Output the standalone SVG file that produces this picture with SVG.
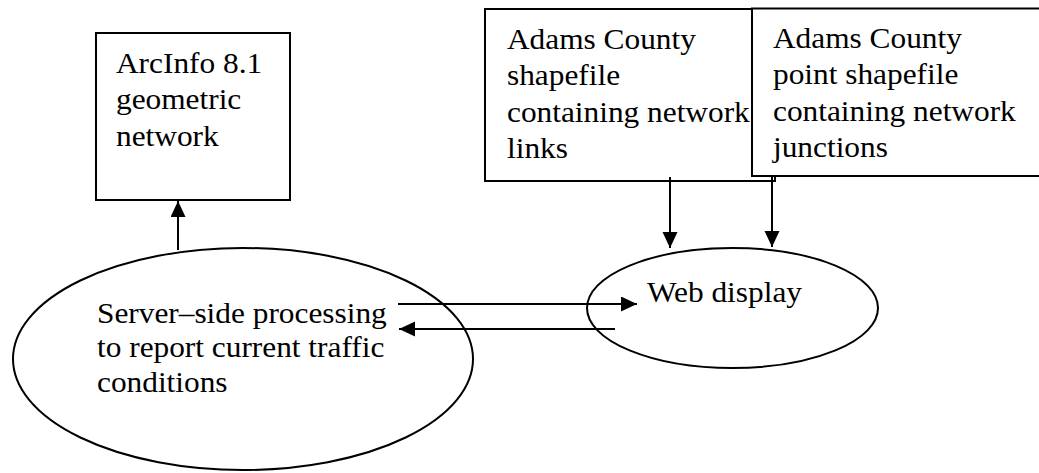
<svg xmlns="http://www.w3.org/2000/svg" width="1039" height="473" viewBox="0 0 1039 473">
  <style>
    .box { fill: #fff; stroke: #000; stroke-width: 2; }
    .oval { fill: none; stroke: #000; stroke-width: 2; }
    .lbl { font-family: "Liberation Serif", "Times New Roman", serif; font-size: 28.5px; fill: #000; }
    .edge { stroke: #000; stroke-width: 2; fill: none; marker-end: url(#head); }
  </style>
  <defs>
    <marker id="head" markerUnits="userSpaceOnUse" markerWidth="18" markerHeight="16" refX="16" refY="7.5" orient="auto">
      <path d="M0,0 L16,7.5 L0,15 z" fill="#000"/>
    </marker>
  </defs>

  <g id="arcinfo">
    <rect class="box" x="96" y="33" width="194" height="167"/>
    <text class="lbl" transform="translate(116,73) scale(1.1,1)">
      <tspan x="0" y="0">ArcInfo 8.1</tspan>
      <tspan x="0" y="36.5">geometric</tspan>
      <tspan x="0" y="73">network</tspan>
    </text>
  </g>

  <g id="links-shapefile">
    <rect class="box" x="485" y="9" width="290" height="172"/>
    <text class="lbl" transform="translate(507,49) scale(1.1,1)">
      <tspan x="0" y="0">Adams County</tspan>
      <tspan x="0" y="36.5">shapefile</tspan>
      <tspan x="0" y="73">containing network</tspan>
      <tspan x="0" y="109.5">links</tspan>
    </text>
  </g>

  <g id="junctions-shapefile">
    <rect class="box" x="752" y="8.5" width="300" height="167.5"/>
    <text class="lbl" transform="translate(773,48) scale(1.1,1)">
      <tspan x="0" y="0">Adams County</tspan>
      <tspan x="0" y="36.5">point shapefile</tspan>
      <tspan x="0" y="73">containing network</tspan>
      <tspan x="0" y="109.5">junctions</tspan>
    </text>
  </g>

  <g id="server-processing">
    <ellipse class="oval" cx="243" cy="359" rx="230" ry="111"/>
    <text class="lbl" transform="translate(97,322.5) scale(1.1,1)">
      <tspan x="0" y="0">Server–side processing</tspan>
      <tspan x="0" y="35">to report current traffic</tspan>
      <tspan x="0" y="69.5">conditions</tspan>
    </text>
  </g>

  <g id="web-display">
    <ellipse class="oval" cx="732.5" cy="308" rx="145.5" ry="60"/>
    <text class="lbl" transform="translate(647,302) scale(1.1,1)">Web display</text>
  </g>

  <g id="connectors">
    <line class="edge" x1="178" y1="250" x2="178" y2="201"/>
    <line class="edge" x1="670" y1="177" x2="670" y2="248"/>
    <line class="edge" x1="772" y1="176" x2="772" y2="247"/>
    <line class="edge" x1="398" y1="304" x2="637" y2="304"/>
    <line class="edge" x1="615" y1="329" x2="399" y2="329"/>
  </g>
</svg>
